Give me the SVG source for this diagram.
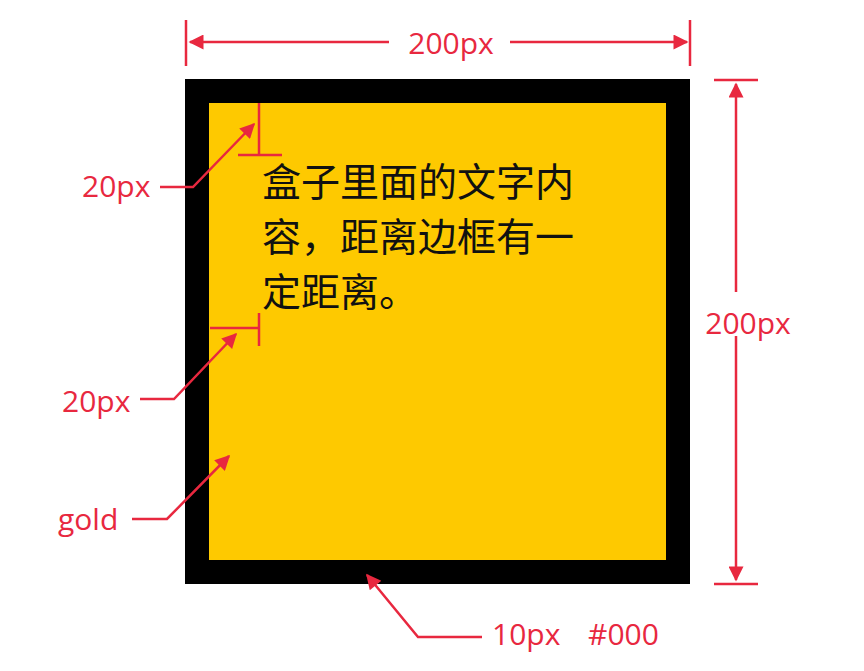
<svg xmlns="http://www.w3.org/2000/svg" width="864" height="671" viewBox="0 0 864 671">
  <defs>
    <marker id="arrow" viewBox="0 0 10 10" refX="9" refY="5" markerWidth="8" markerHeight="6" markerUnits="strokeWidth" orient="auto-start-reverse">
      <path d="M0,0 L10,5 L0,10 Z" fill="#e8283f"/>
    </marker>
    <style>
      .dim { stroke: #e8283f; stroke-width: 2.5; fill: none; }
      .lbl { font-family: "Open Sans", "Noto Sans", "Liberation Sans", sans-serif; font-size: 30px; fill: #e8283f; white-space: pre; }
      .body { font-family: "Noto Sans CJK SC", "Noto Sans", sans-serif; font-size: 39px; fill: #111; }
    </style>
  </defs>
  <rect width="864" height="671" fill="#ffffff"/>

  <!-- the box: 10px black border, gold fill -->
  <g id="box">
    <rect x="185" y="79" width="505" height="505" fill="#000"/>
    <rect x="209" y="103" width="457" height="457" fill="#fec900"/>
    <text class="body" x="262" y="196">盒子里面的文字内</text>
    <text class="body" x="262" y="251">容，距离边框有一</text>
    <text class="body" x="262" y="306">定距离。</text>
  </g>

  <g id="connectors">
    <!-- width dimension -->
    <line class="dim" x1="186" y1="20" x2="186" y2="66"/>
    <line class="dim" x1="690" y1="20" x2="690" y2="66"/>
    <line class="dim" x1="389" y1="42" x2="190" y2="42" marker-end="url(#arrow)"/>
    <line class="dim" x1="510" y1="42" x2="687" y2="42" marker-end="url(#arrow)"/>

    <!-- height dimension -->
    <line class="dim" x1="714" y1="80" x2="758" y2="80"/>
    <line class="dim" x1="714" y1="584" x2="758" y2="584"/>
    <line class="dim" x1="736" y1="292" x2="736" y2="84" marker-end="url(#arrow)"/>
    <line class="dim" x1="736" y1="336" x2="736" y2="580" marker-end="url(#arrow)"/>

    <!-- padding markers -->
    <line class="dim" x1="259" y1="103" x2="259" y2="155"/>
    <line class="dim" x1="238" y1="155" x2="282" y2="155"/>
    <line class="dim" x1="210" y1="328" x2="259" y2="328"/>
    <line class="dim" x1="259" y1="313" x2="259" y2="346"/>

    <!-- leaders -->
    <polyline class="dim" points="160,187 193,187 254,124" marker-end="url(#arrow)"/>
    <polyline class="dim" points="140,399 174,399 236,334" marker-end="url(#arrow)"/>
    <polyline class="dim" points="132,519 167,519 229,456" marker-end="url(#arrow)"/>
    <polyline class="dim" points="482,637 418,637 367,575" marker-end="url(#arrow)"/>
  </g>

  <g id="labels">
    <text class="lbl" x="451" y="54" text-anchor="middle">200px</text>
    <text class="lbl" x="748" y="334" text-anchor="middle">200px</text>
    <text class="lbl" x="82" y="197">20px</text>
    <text class="lbl" x="62" y="412">20px</text>
    <text class="lbl" x="58" y="530">gold</text>
    <text class="lbl" x="492" y="645">10px</text>
    <text class="lbl" x="588" y="645">#000</text>
  </g>
</svg>
